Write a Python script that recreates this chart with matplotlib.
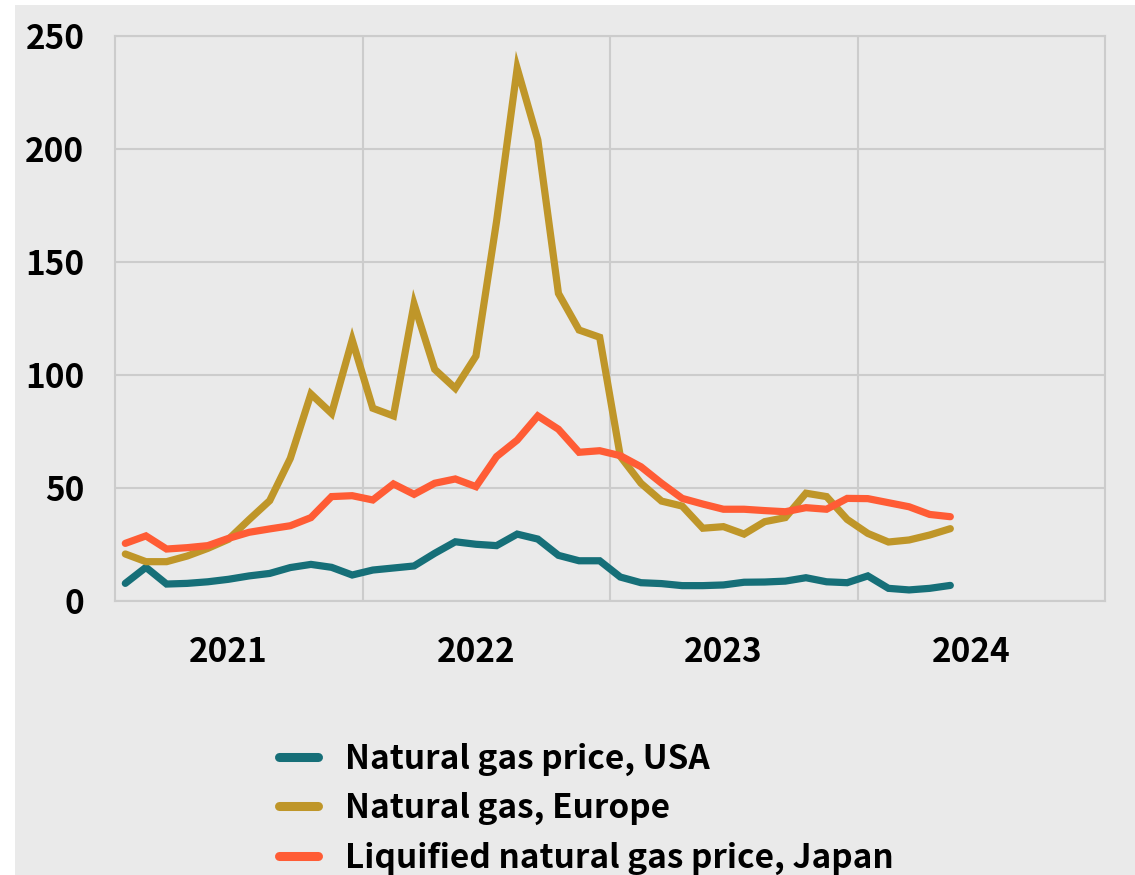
import matplotlib
matplotlib.use('Agg')
import matplotlib.pyplot as plt
from matplotlib.patches import Rectangle
import numpy as np

plt.rcParams['font.family'] = ['Noto Sans CJK SC', 'DejaVu Sans']
plt.rcParams['font.weight'] = 'bold'

# monthly values, Jan 2021 .. May 2024
usa = [7.8, 14.9, 7.5, 7.8, 8.5, 9.6, 11.1, 12.2, 14.8, 16.2, 14.9, 11.5,
       13.7, 14.6, 15.5, 21.1, 26.2, 25.1, 24.5, 29.6, 27.4, 20.2, 17.8, 17.8,
       10.6, 8.1, 7.7, 6.8, 6.8, 7.1, 8.3, 8.4, 8.8, 10.3, 8.5, 8.1,
       11.1, 5.6, 4.9, 5.6, 6.9]
europe = [20.8, 17.4, 17.4, 19.9, 23.3, 27.3, 36.0, 44.4, 63.1, 91.6, 83.0, 115.5,
          85.3, 81.9, 131.4, 102.5, 94.1, 108.4, 168.0, 235.7, 204.0, 136.1, 119.9, 116.7,
          64.0, 52.1, 44.2, 42.0, 32.2, 32.9, 29.6, 35.1, 36.9, 47.7, 46.2, 36.1,
          29.9, 26.1, 27.0, 29.2, 32.0]
japan = [25.5, 28.8, 23.0, 23.6, 24.5, 27.7, 30.4, 31.9, 33.3, 36.9, 46.2, 46.6,
         44.7, 51.8, 47.2, 52.1, 54.0, 50.6, 63.9, 71.2, 81.9, 76.0, 65.8, 66.5,
         64.3, 59.4, 52.1, 45.4, 42.9, 40.6, 40.6, 40.0, 39.5, 41.3, 40.6, 45.4,
         45.3, 43.5, 41.7, 38.3, 37.3]
years = ['2021', '2022', '2023', '2024']
labels = ['Natural gas price, USA', 'Natural gas, Europe',
          'Liquified natural gas price, Japan']
colors = ['#166f78', '#bf9629', '#ff5c35']

W, H = 1135, 875
fig = plt.figure(figsize=(W / 100, H / 100), dpi=100, facecolor='white')
fig.patches.append(Rectangle((15 / W, 0), 1, 1 - 5 / H, transform=fig.transFigure,
                             facecolor='#eaeaea', edgecolor='none', zorder=-10))

ax = fig.add_axes([115 / W, 1 - 601 / H, 990 / W, 565 / H])
ax.set_facecolor('#eaeaea')

x = np.arange(len(usa))
for ys, c, lab in zip([usa, europe, japan], colors, labels):
    ax.plot(x, ys, color=c, lw=5.2, label=lab, solid_capstyle='round',
            solid_joinstyle='miter')

ax.set_xlim(-0.5, 47.5)
ax.set_ylim(0, 250)
ax.set_yticks([0, 50, 100, 150, 200, 250])
ax.set_xticks([5, 17, 29, 41])
ax.set_xticklabels(years)
ax.set_xticks([11.5, 23.5, 35.5], minor=True)
ax.tick_params(axis='both', which='both', length=0, labelsize=24)
ax.tick_params(axis='y', pad=22)
ax.tick_params(axis='x', pad=25)
for t in ax.get_xticklabels() + ax.get_yticklabels():
    t.set_fontweight('bold')
ax.grid(False)
ax.grid(True, axis='y', which='major', color='#cccccc', lw=1.5)
ax.grid(True, axis='x', which='minor', color='#cccccc', lw=1.5)
ax.set_axisbelow(True)
for s in ax.spines.values():
    s.set_color('#cccccc')
    s.set_linewidth(1.5)

leg = fig.legend(loc='upper left', bbox_to_anchor=(266 / W, 1 - 729 / H),
                 frameon=False, fontsize=24, handlelength=1.17,
                 handletextpad=0.8, labelspacing=0.49, borderaxespad=0)
for t in leg.get_texts():
    t.set_fontweight('bold')
for l in leg.get_lines():
    l.set_linewidth(6.5)
    l.set_solid_capstyle('round')

fig.savefig('out.png', dpi=100, facecolor=fig.get_facecolor())
